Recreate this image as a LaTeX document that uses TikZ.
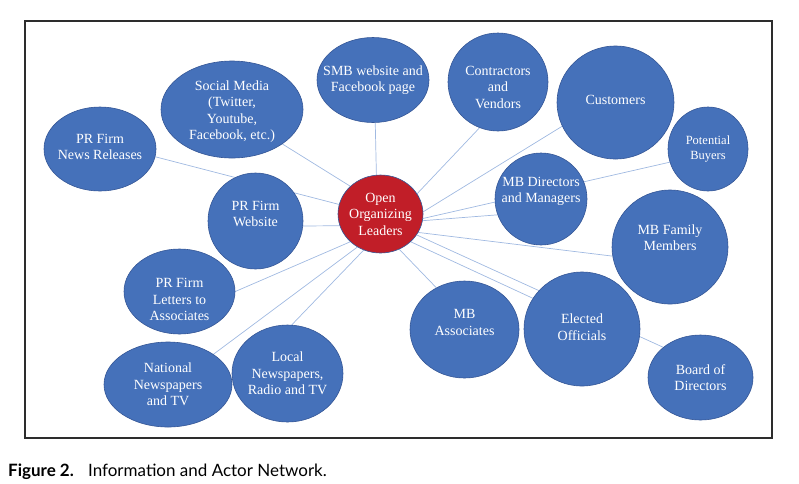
\documentclass[tikz,border=0pt]{standalone}
\usepackage{fontspec}
\setmainfont{Liberation Serif}
\newfontfamily\capfont{Lato}
\usetikzlibrary{shapes.geometric, backgrounds}

\definecolor{bubblue}{RGB}{69,113,186}
\definecolor{bubedge}{RGB}{52,86,150}
\definecolor{leadred}{RGB}{193,30,40}
\definecolor{linkblue}{RGB}{160,185,225}
\definecolor{framegray}{RGB}{45,45,45}

\tikzset{
  bub/.style={ellipse, fill=bubblue, draw=bubedge, line width=0.6pt, inner sep=0pt},
  bubtxt/.style={text=white, align=center, inner sep=0pt, font=\fontsize{14}{16.5}\selectfont},
  link/.style={draw=linkblue, line width=0.7pt},
}

\begin{document}
\begin{tikzpicture}[x=1pt, y=-1pt]
        \useasboundingbox (0,0) rectangle (799,483);
        \draw[framegray, line width=1.1pt] (25,21) rectangle (772,438);

        % Centre
        \node[bub, fill=leadred, minimum width=85, minimum height=78, label={[bubtxt]center:Open\\Organizing\\Leaders}] (lead) at (380.5,214) {};

        % Left side: PR firm and media
        \node[bub, minimum width=112, minimum height=84, label={[bubtxt, yshift=2]center:PR Firm\\News Releases}] (news) at (100,149) {};
        \node[bub, minimum width=142, minimum height=97, label={[bubtxt, yshift=-2]center:{Social Media\\(Twitter,\\Youtube,\\Facebook, etc.)}}] (social) at (232,109.5) {};
        \node[bub, minimum width=95, minimum height=96, label={[bubtxt, yshift=7]center:PR Firm\\Website}] (web) at (255.5,221) {};
        \node[bub, minimum width=111, minimum height=85, label={[bubtxt, yshift=-8]center:PR Firm\\Letters to\\Associates}] (letters) at (179.5,291.5) {};
        \node[bub, minimum width=128, minimum height=85, label={[bubtxt]center:National\\Newspapers\\and TV}] (nat) at (168,384.5) {};
        \node[bub, minimum width=111, minimum height=97, label={[bubtxt]center:{Local\\Newspapers,\\Radio and TV}}] (local) at (287.5,373.5) {};

        % Top
        \node[bub, minimum width=112, minimum height=85, label={[bubtxt]center:SMB website and\\Facebook page}] (smb) at (373,80) {};
        \node[bub, minimum width=100, minimum height=98, label={[bubtxt, yshift=-5]center:Contractors\\and\\Vendors}] (contr) at (498,82) {};
        \node[bub, minimum width=117, minimum height=113, label={[bubtxt, yshift=2.5]center:Customers}] (cust) at (615.5,102.5) {};
        \node[bub, minimum width=80, minimum height=84, label={[bubtxt, font=\fontsize{12.5}{15}\selectfont]center:Potential\\Buyers}] (buy) at (708,149) {};

        % Right side: MB people
        \node[bub, minimum width=92, minimum height=92, label={[bubtxt, yshift=7.5]center:MB Directors\\and Managers}] (dir) at (541,199) {};
        \node[bub, minimum width=116, minimum height=114, label={[bubtxt, yshift=9.5]center:MB Family\\Members}] (fam) at (670,247) {};
        \node[bub, minimum width=109, minimum height=97, label={[bubtxt, yshift=7]center:MB\\Associates}] (assoc) at (464.5,329.5) {};
        \node[bub, minimum width=116, minimum height=114, label={[bubtxt, yshift=2]center:Elected\\Officials}] (elect) at (582,329) {};
        \node[bub, minimum width=105, minimum height=85, label={[bubtxt]center:Board of\\Directors}] (board) at (700.5,377.5) {};

        % Links to the leaders (behind the bubbles)
        \begin{scope}[on background layer]
          \draw[link] (lead.167) -- (news.352);
          \draw[link] (lead.north west) -- (social.south east);
          \draw[link] (lead.196) -- (web.354);
          \draw[link] (lead.south west) -- (letters.east);
          \draw[link] (lead.235) -- (nat.north east);
          \draw[link] (lead.245) -- (local.85);
          \draw[link] (lead.96) -- (smb.273);
          \draw[link] (lead.29) -- (contr.248);
          \draw[link] (lead.3) -- (cust.204);
          \draw[link] (lead.354) -- (buy.199);
          \draw[link] (lead.351) -- (dir.200);
          \draw[link] (lead.334) -- (fam.189);
          \draw[link] (lead.298) -- (assoc.124);
          \draw[link] (lead.south east) -- (elect.148);
          \draw[link] (lead.330) -- (board.141);
        \end{scope}

        % Caption
        \node[anchor=base west, inner sep=0pt, font=\capfont\fontsize{17}{20}\selectfont] (cap) at (8,476) {\textbf{Figure 2.}\hspace{0.5em} Information and Actor Network.};
\end{tikzpicture}
\end{document}
